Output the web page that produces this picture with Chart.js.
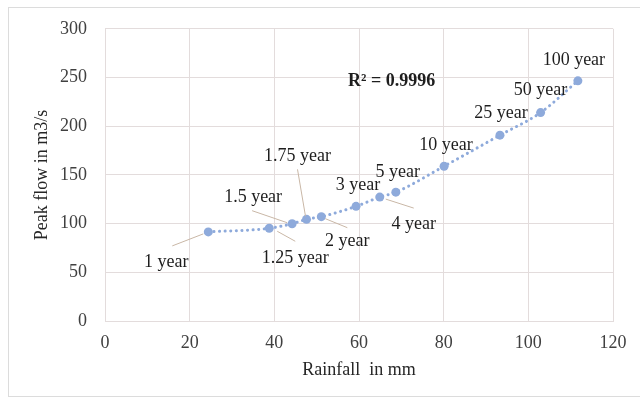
<!DOCTYPE html>
<html>
<head>
<meta charset="utf-8">
<script src="https://cdn.jsdelivr.net/npm/chart.js@4"></script>
<style>
  html, body { margin: 0; padding: 0; background: #fff; }
  #wrap { width: 640px; height: 401px; position: relative; }
</style>
</head>
<body>
<div id="wrap"><canvas id="chart"></canvas></div>
<script>
// return periods and values
const periods  = ['1 year', '1.25 year', '1.5 year', '1.75 year', '2 year', '3 year', '4 year', '5 year', '10 year', '25 year', '50 year', '100 year'];
const rainfall = [24.4, 38.8, 44.2, 47.6, 51.1, 59.3, 64.9, 68.7, 80.1, 93.3, 102.9, 111.7];
const peakFlow = [91.5, 95.2, 99.9, 104.4, 107.1, 117.7, 127.2, 132.3, 158.9, 190.8, 214.0, 246.6];
const xTicks   = [0, 20, 40, 60, 80, 100, 120];
const yTicks   = [0, 50, 100, 150, 200, 250, 300];
const r2Text   = 'R\u00b2 = 0.9996';
const r2At     = { x: 67.7, y: 245.6 };

// label placement (px offsets from each point) and leader lines [x1,y1,x2,y2]
const labelOffsets = [[-42, 30], [26, 30], [-39, -26], [-9, -63], [26, 25], [2, -21], [34, 27], [2, -20], [2, -21], [1, -22], [0, -22], [-4, -21]];
const leaders = [[-36, 14, -5, 2], [26, 13, 8, 3], [-40, -13, -5, -1], [-9, -50, -1, -3], [4, 2, 26, 11], null, [6, 2, 34, 11], null, null, null, null, null];

const serif = "'Liberation Serif', 'Times New Roman', serif";
const gridCol = '#e3dcdc';
const blue = '#8eaadb';

const labelPlugin = {
  id: 'pointLabels',
  afterDatasetsDraw(chart) {
    const { ctx, scales } = chart;
    const meta = chart.getDatasetMeta(0);
    ctx.save();
    // leader lines
    ctx.strokeStyle = '#c9b7a6';
    ctx.lineWidth = 1;
    meta.data.forEach((pt, i) => {
      const l = leaders[i];
      if (!l) return;
      ctx.beginPath();
      ctx.moveTo(pt.x + l[0], pt.y + l[1]);
      ctx.lineTo(pt.x + l[2], pt.y + l[3]);
      ctx.stroke();
    });
    // texts
    ctx.fillStyle = '#1e1e1e';
    ctx.font = '18px ' + serif;
    ctx.textAlign = 'center';
    ctx.textBaseline = 'middle';
    meta.data.forEach((pt, i) => {
      const o = labelOffsets[i];
      ctx.fillText(periods[i], pt.x + o[0], pt.y + o[1]);
    });
    // R squared
    ctx.font = 'bold 18px ' + serif;
    ctx.fillText(r2Text, scales.x.getPixelForValue(r2At.x), scales.y.getPixelForValue(r2At.y));
    // outer frame
    ctx.strokeStyle = '#dcdcdc';
    ctx.strokeRect(8.5, 7.5, 640, 389);
    ctx.restore();
  }
};

new Chart(document.getElementById('chart'), {
  type: 'scatter',
  data: {
    datasets: [{
      data: rainfall.map((r, i) => ({ x: r, y: peakFlow[i] })),
      showLine: true,
      cubicInterpolationMode: 'monotone',
      borderColor: blue,
      borderWidth: 3,
      borderDash: [0.1, 5.5],
      borderCapStyle: 'round',
      backgroundColor: blue,
      pointRadius: 4.5,
      pointBorderWidth: 0
    }]
  },
  options: {
    responsive: true,
    maintainAspectRatio: false,
    animation: false,
    layout: { padding: { left: 9, right: 27, top: 27, bottom: 0 } },
    plugins: { legend: { display: false }, tooltip: { enabled: false } },
    scales: {
      x: {
        type: 'linear',
        min: 0, max: 120,
        afterBuildTicks: s => { s.ticks = xTicks.map(v => ({ value: v })); },
        afterFit: s => { s.height = 80; },
        grid: { color: gridCol, drawTicks: false },
        border: { color: gridCol },
        ticks: { padding: 11, color: '#404040', font: { family: serif, size: 18 } },
        title: { display: true, text: 'Rainfall  in mm', color: '#262626', padding: { top: 0, bottom: 20 }, font: { family: serif, size: 18 } }
      },
      y: {
        min: 0, max: 300,
        afterBuildTicks: s => { s.ticks = yTicks.map(v => ({ value: v })); },
        afterFit: s => { s.width = 96; },
        grid: { color: gridCol, drawTicks: false },
        border: { color: gridCol },
        ticks: { padding: 18, color: '#404040', font: { family: serif, size: 18 } },
        title: { display: true, text: 'Peak flow in m3/s', color: '#262626', padding: { top: 22, bottom: 0 }, font: { family: serif, size: 18 } }
      }
    }
  },
  plugins: [labelPlugin]
});
</script>
</body>
</html>
